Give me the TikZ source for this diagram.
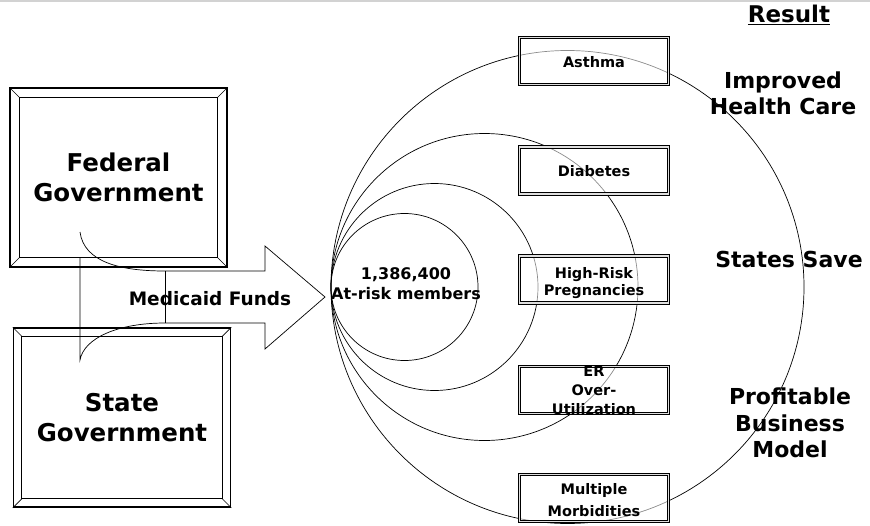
\documentclass[tikz,border=0pt]{standalone}
\usepackage{fontspec}
\setmainfont{DejaVu Sans}
\begin{document}
\begin{tikzpicture}[x=1pt, y=-1pt, line width=0.7pt,
    govbox/.style = {draw, line width=1.5pt, inner sep=0pt, minimum width=217pt, minimum height=179pt, align=center, font=\fontsize{24.5}{30}\selectfont\bfseries},
    dbox/.style = {draw, line width=0.9pt, double=gray!25, double distance=1.6pt, fill=white, fill opacity=0.55, minimum width=149pt, minimum height=47pt, inner sep=0pt},
    boxtext/.style = {align=center, inner sep=0pt, font=\fontsize{14.5}{19}\selectfont\bfseries},
    result/.style = {align=center, inner sep=0pt, font=\fontsize{22}{26.5}\selectfont\bfseries}]
  \useasboundingbox (0,0) rectangle (870,525);
  \draw[gray!35, line width=1.5pt] (0,1) -- (870,1);

  % government boxes
  \node[govbox] (fed) at (118.5,177.5) {Federal\\Government};
  \draw[line width=1pt] ([shift={(10,10)}]fed.north west) rectangle ([shift={(-10,-10)}]fed.south east);
  \draw (fed.north west) -- ++(10,10);
  \draw (fed.north east) -- ++(-10,10);
  \draw (fed.south west) -- ++(10,-10);
  \draw (fed.south east) -- ++(-10,-10);

  \node[govbox] (state) at (122,417.5) {State\\Government};
  \draw[line width=1pt] ([shift={(9,9)}]state.north west) rectangle ([shift={(-9,-9)}]state.south east);
  \draw (state.north west) -- ++(9,9);
  \draw (state.north east) -- ++(-9,9);
  \draw (state.south west) -- ++(9,-9);
  \draw (state.south east) -- ++(-9,-9);

  % funds arrow
  \coordinate (tip) at (325,297);
  \draw (80,232) .. controls (84,262) and (120,271) .. (165,271) -- (265,271) -- (265,246)
    -- (tip) -- (265,349) -- (265,323) -- (165,323) .. controls (118,323) and (84,338) .. (80,360) -- (80,257);
  \draw (165,271) -- (165,323);
  \node[font=\fontsize{18.5}{22}\selectfont\bfseries] (funds) at (210,298.5) {Medicaid Funds};

  % member circles
  \draw (404.5,287) circle (73.5);
  \draw (434.5,287) circle (103.5);
  \draw (484.5,287) circle (153.5);
  \draw (567.5,287) circle (236.5);
  \node[align=center, inner sep=0pt, font=\fontsize{16}{20}\selectfont\bfseries] (members) at (406,284) {1,386,400\\At-risk members};

  % conditions
  \node[dbox] (asthma) at (594,61) {};
  \node[dbox] (diab) at (594,170.5) {};
  \node[dbox] (hrp) at (594,279.5) {};
  \node[dbox] (er) at (594,390) {};
  \node[dbox] (morb) at (594,498) {};
  \node[boxtext] (asthmatext) at (594,62) {Asthma};
  \node[boxtext] (diabtext) at (594,171) {Diabetes};
  \node[boxtext, font=\fontsize{14.5}{17}\selectfont\bfseries] (hrptext) at (594,283) {High-Risk\\Pregnancies};
  \node[boxtext] (ertext) at (594,390.5) {ER\\Over-\\Utilization};
  \node[boxtext, font=\fontsize{14.5}{22}\selectfont\bfseries] (morbtext) at (594,500.5) {Multiple\\Morbidities};

  % results
  \node[result, font=\fontsize{23}{26}\selectfont\bfseries] (res) at (789,15) {\underline{Result}};
  \node[result] (care) at (783,93.5) {Improved\\Health Care};
  \node[result] (save) at (789,259.5) {States Save};
  \node[result] (model) at (790,423) {Profitable\\Business\\Model};
\end{tikzpicture}
\end{document}
